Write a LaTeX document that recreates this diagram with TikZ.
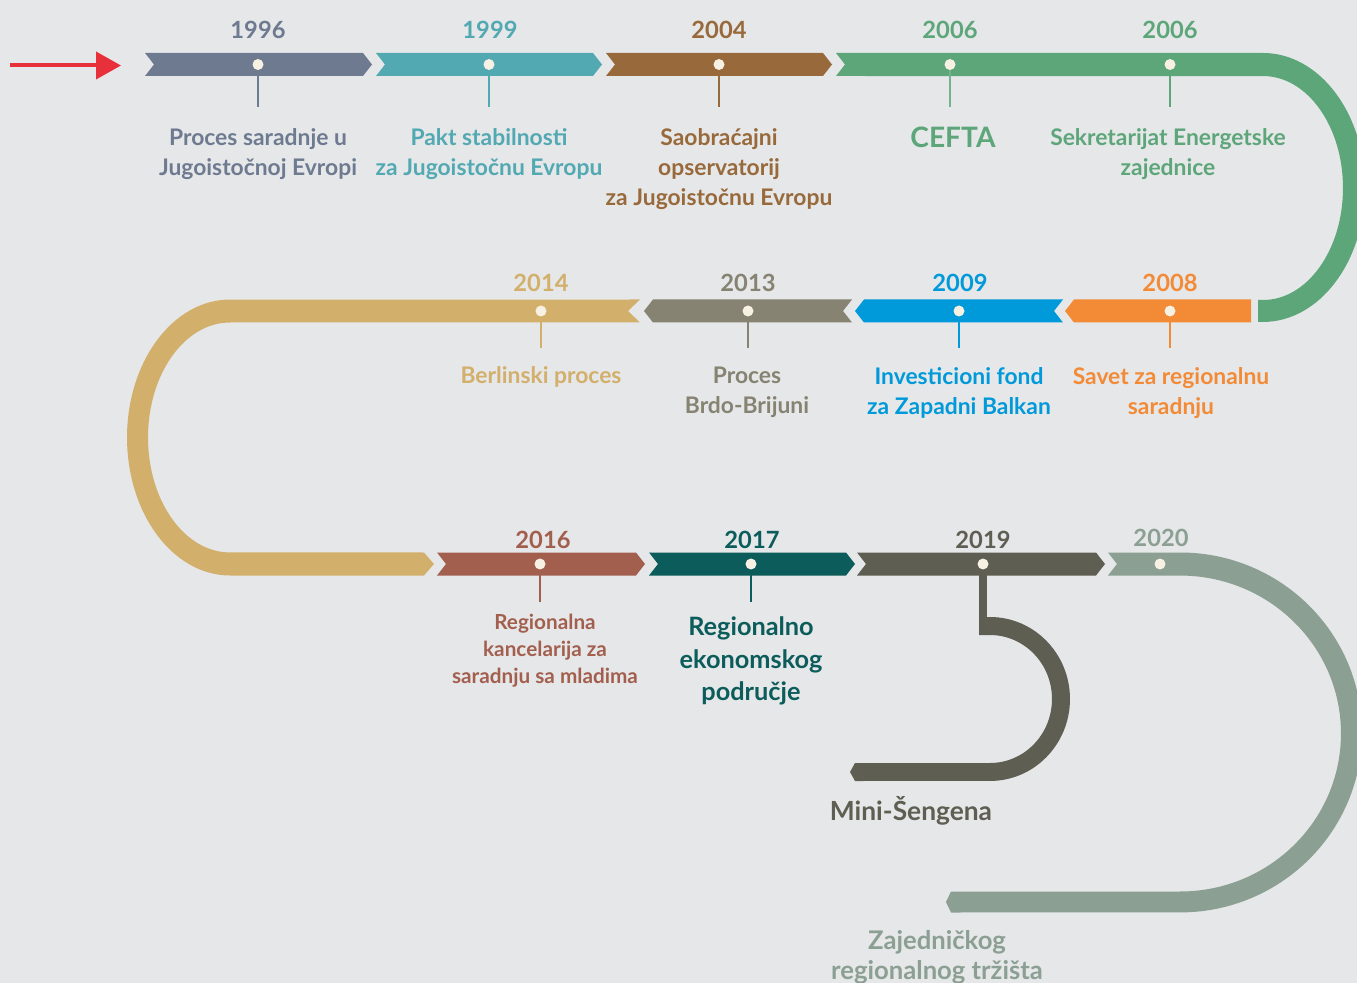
\documentclass[tikz,border=0pt]{standalone}
\usepackage{fontspec}
\setmainfont{Lato}
\usetikzlibrary{arrows.meta}

\definecolor{bgc}{HTML}{E6E7E9}
\definecolor{c96}{HTML}{6E7A90}
\definecolor{c99}{HTML}{52A9B2}
\definecolor{c04}{HTML}{98693A}
\definecolor{c06}{HTML}{5DA67A}
\definecolor{c08}{HTML}{F38A35}
\definecolor{c09}{HTML}{0099DA}
\definecolor{c13}{HTML}{868372}
\definecolor{c14}{HTML}{D3AF6C}
\definecolor{c16}{HTML}{A35F4E}
\definecolor{c17}{HTML}{0B5C5A}
\definecolor{c19}{HTML}{5E5E52}
\definecolor{c20}{HTML}{8B9F93}
\definecolor{cred}{HTML}{E8303A}
\definecolor{cdot}{HTML}{F7F1E3}

% chevron pointing right: color, left x, right x, centre y
\newcommand{\chevR}[4]{\fill[#1] (#2,#4-11.5) -- (#3,#4-11.5) -- (#3+9,#4) -- (#3,#4+11.5) -- (#2,#4+11.5) -- (#2+9,#4) -- cycle;}
% chevron pointing left: color, tip x, right x, centre y
\newcommand{\chevL}[4]{\fill[#1] (#2,#4) -- (#2+9,#4-11.5) -- (#3,#4-11.5) -- (#3-9,#4) -- (#3,#4+11.5) -- (#2+9,#4+11.5) -- cycle;}

\tikzset{
  yr/.style={font=\bfseries\fontsize{13.5}{15}\selectfont, text=#1},
  lbl/.style={font=\bfseries\fontsize{13}{17}\selectfont, text=#1, align=center},
  dot/.style={circle, fill=cdot, inner sep=0pt, minimum size=0.22cm},
  stem/.style={draw=#1, line width=0.05cm},
}

\begin{document}
\begin{tikzpicture}[x=0.02cm, y=-0.02cm]
	\useasboundingbox (0,0) rectangle (1357,983);
	\fill[bgc] (0,0) rectangle (1357,983);
	\clip (0,0) rectangle (1357,983);

	% entry arrow
	\coordinate (in0) at (10,65.5);
	\coordinate (in1) at (121,65.5);
	\draw[cred, line width=0.08cm, -{Triangle[length=0.5cm, width=0.54cm]}] (in0) -- (in1);

	% first row
	\chevR{c96}{145}{363}{64.5}
	\chevR{c99}{376}{593}{64.5}
	\chevR{c04}{606}{823}{64.5}
	\fill[c06] (836,53) -- (1263,53) arc[start angle=90, end angle=-90, x radius=2.04cm, y radius=2.69cm]
		-- (1258,322) -- (1258,300) -- (1263,300)
		arc[start angle=-90, end angle=90, x radius=1.6cm, y radius=2.24cm] -- (836,76) -- (845,64.5) -- cycle;

	% second row
	\fill[c08] (1065,311) -- (1074,299.5) -- (1251,299.5) -- (1251,322.5) -- (1074,322.5) -- cycle;
	\chevL{c09}{855}{1063}{311}
	\chevL{c13}{644}{852}{311}
	\fill[c14] (640,299.5) -- (628,311) -- (640,322.5) -- (230,322.5)
		arc[start angle=90, end angle=270, x radius=1.64cm, y radius=2.30cm]
		-- (424,552.5) -- (434,564) -- (424,575.5) -- (230,575.5)
		arc[start angle=270, end angle=90, x radius=2.06cm, y radius=2.76cm] -- cycle;

	% third row
	\chevR{c16}{437}{636}{564}
	\chevR{c17}{649}{846}{564}
	\chevR{c19}{857}{1096}{564}
	\fill[c20] (1108,552.5) -- (1180,552.5) arc[start angle=90, end angle=-90, x radius=3.64cm, y radius=3.60cm]
		-- (951,912.5) -- (946,902) -- (951,891.5) -- (1180,891.5)
		arc[start angle=-90, end angle=90, x radius=3.22cm, y radius=3.16cm] -- (1108,575.5) -- (1117,564) -- cycle;
	\fill[c19] (979,617) -- (990,617) arc[start angle=90, end angle=-90, x radius=1.6cm, y radius=1.64cm]
		-- (855,781) -- (850,772) -- (855,763) -- (990,763)
		arc[start angle=-90, end angle=90, x radius=1.24cm, y radius=1.28cm] -- (979,635) -- cycle;

	% dots
	\node[dot] (d96) at (258,64.5) {};
	\node[dot] (d99) at (489,64.5) {};
	\node[dot] (d04) at (719,64.5) {};
	\node[dot] (d06a) at (950,64.5) {};
	\node[dot] (d06b) at (1170,64.5) {};
	\node[dot] (d08) at (1170,311) {};
	\node[dot] (d09) at (959,311) {};
	\node[dot] (d13) at (748,311) {};
	\node[dot] (d14) at (541,311) {};
	\node[dot] (d16) at (540,564) {};
	\node[dot] (d17) at (751,564) {};
	\node[dot] (d19) at (983,564) {};
	\node[dot] (d20) at (1160,564) {};

	% stems
	\coordinate (s96) at (258,107);
	\coordinate (s99) at (489,107);
	\coordinate (s04) at (719,107);
	\coordinate (s06a) at (950,107);
	\coordinate (s06b) at (1170,107);
	\coordinate (s08) at (1170,348);
	\coordinate (s09) at (959,348);
	\coordinate (s13) at (748,348);
	\coordinate (s14) at (541,348);
	\coordinate (s16) at (540,602);
	\coordinate (s17) at (751,602);
	\coordinate (h19) at (983,626);
	\draw[stem=c96] (d96) -- (s96);
	\draw[stem=c99] (d99) -- (s99);
	\draw[stem=c04] (d04) -- (s04);
	\draw[stem=c06!85!white] (d06a) -- (s06a);
	\draw[stem=c06] (d06b) -- (s06b);
	\draw[stem=c08] (d08) -- (s08);
	\draw[stem=c09] (d09) -- (s09);
	\draw[stem=c13] (d13) -- (s13);
	\draw[stem=c14] (d14) -- (s14);
	\draw[stem=c16] (d16) -- (s16);
	\draw[stem=c17] (d17) -- (s17);
	\draw[c19, line width=0.16cm] (d19) -- (h19);

	% years
	\node[yr=c96] (y96) at (258,30) {1996};
	\node[yr=c99] (y99) at (490,30) {1999};
	\node[yr=c04] (y04) at (719,30) {2004};
	\node[yr=c06] (y06a) at (950,30) {2006};
	\node[yr=c06] (y06b) at (1170,30) {2006};
	\node[yr=c14] (y14) at (541,283) {2014};
	\node[yr=c13] (y13) at (748,283) {2013};
	\node[yr=c09] (y09) at (960,283) {2009};
	\node[yr=c08] (y08) at (1170,283) {2008};
	\node[yr=c16] (y16) at (543,540) {2016};
	\node[yr=c17] (y17) at (752,540) {2017};
	\node[yr=c19] (y19) at (983,540) {2019};
	\node[yr=c20] (y20) at (1161,538) {2020};

	% labels
	\node[lbl=c96] (t96) at (258,154) {Proces saradnje u\\Jugoistočnoj Evropi};
	\node[lbl=c99] (t99) at (489,154) {Pakt stabilnosti\\za Jugoistočnu Evropu};
	\node[lbl=c04] (t04) at (719,169) {Saobraćajni\\opservatorij\\za Jugoistočnu Evropu};
	\node[lbl=c06, font=\bfseries\fontsize{16}{18}\selectfont] (t06a) at (953,137) {CEFTA};
	\node[lbl=c06] (t06b) at (1168,154) {Sekretarijat Energetske\\zajednice};
	\node[lbl=c14] (t14) at (541,377) {Berlinski proces};
	\node[lbl=c13] (t13) at (747,392) {Proces\\Brdo-Brijuni};
	\node[lbl=c09] (t09) at (959,393) {Investicioni fond\\za Zapadni Balkan};
	\node[lbl=c08] (t08) at (1171,393) {Savet za regionalnu\\saradnju};
	\node[lbl=c16, font=\bfseries\fontsize{11.8}{15.3}\selectfont] (t16) at (545,651) {Regionalna\\kancelarija za\\saradnju sa mladima};
	\node[lbl=c17, font=\bfseries\fontsize{14.4}{18.4}\selectfont] (t17) at (751,661) {Regionalno\\ekonomskog\\područje};
	\node[lbl=c19, font=\bfseries\fontsize{15}{17}\selectfont] (t19) at (911,811) {Mini-Šengena};
	\node[lbl=c20, font=\bfseries\fontsize{14.6}{17}\selectfont] (t20) at (937,957) {Zajedničkog\\regionalnog tržišta};
\end{tikzpicture}
\end{document}
